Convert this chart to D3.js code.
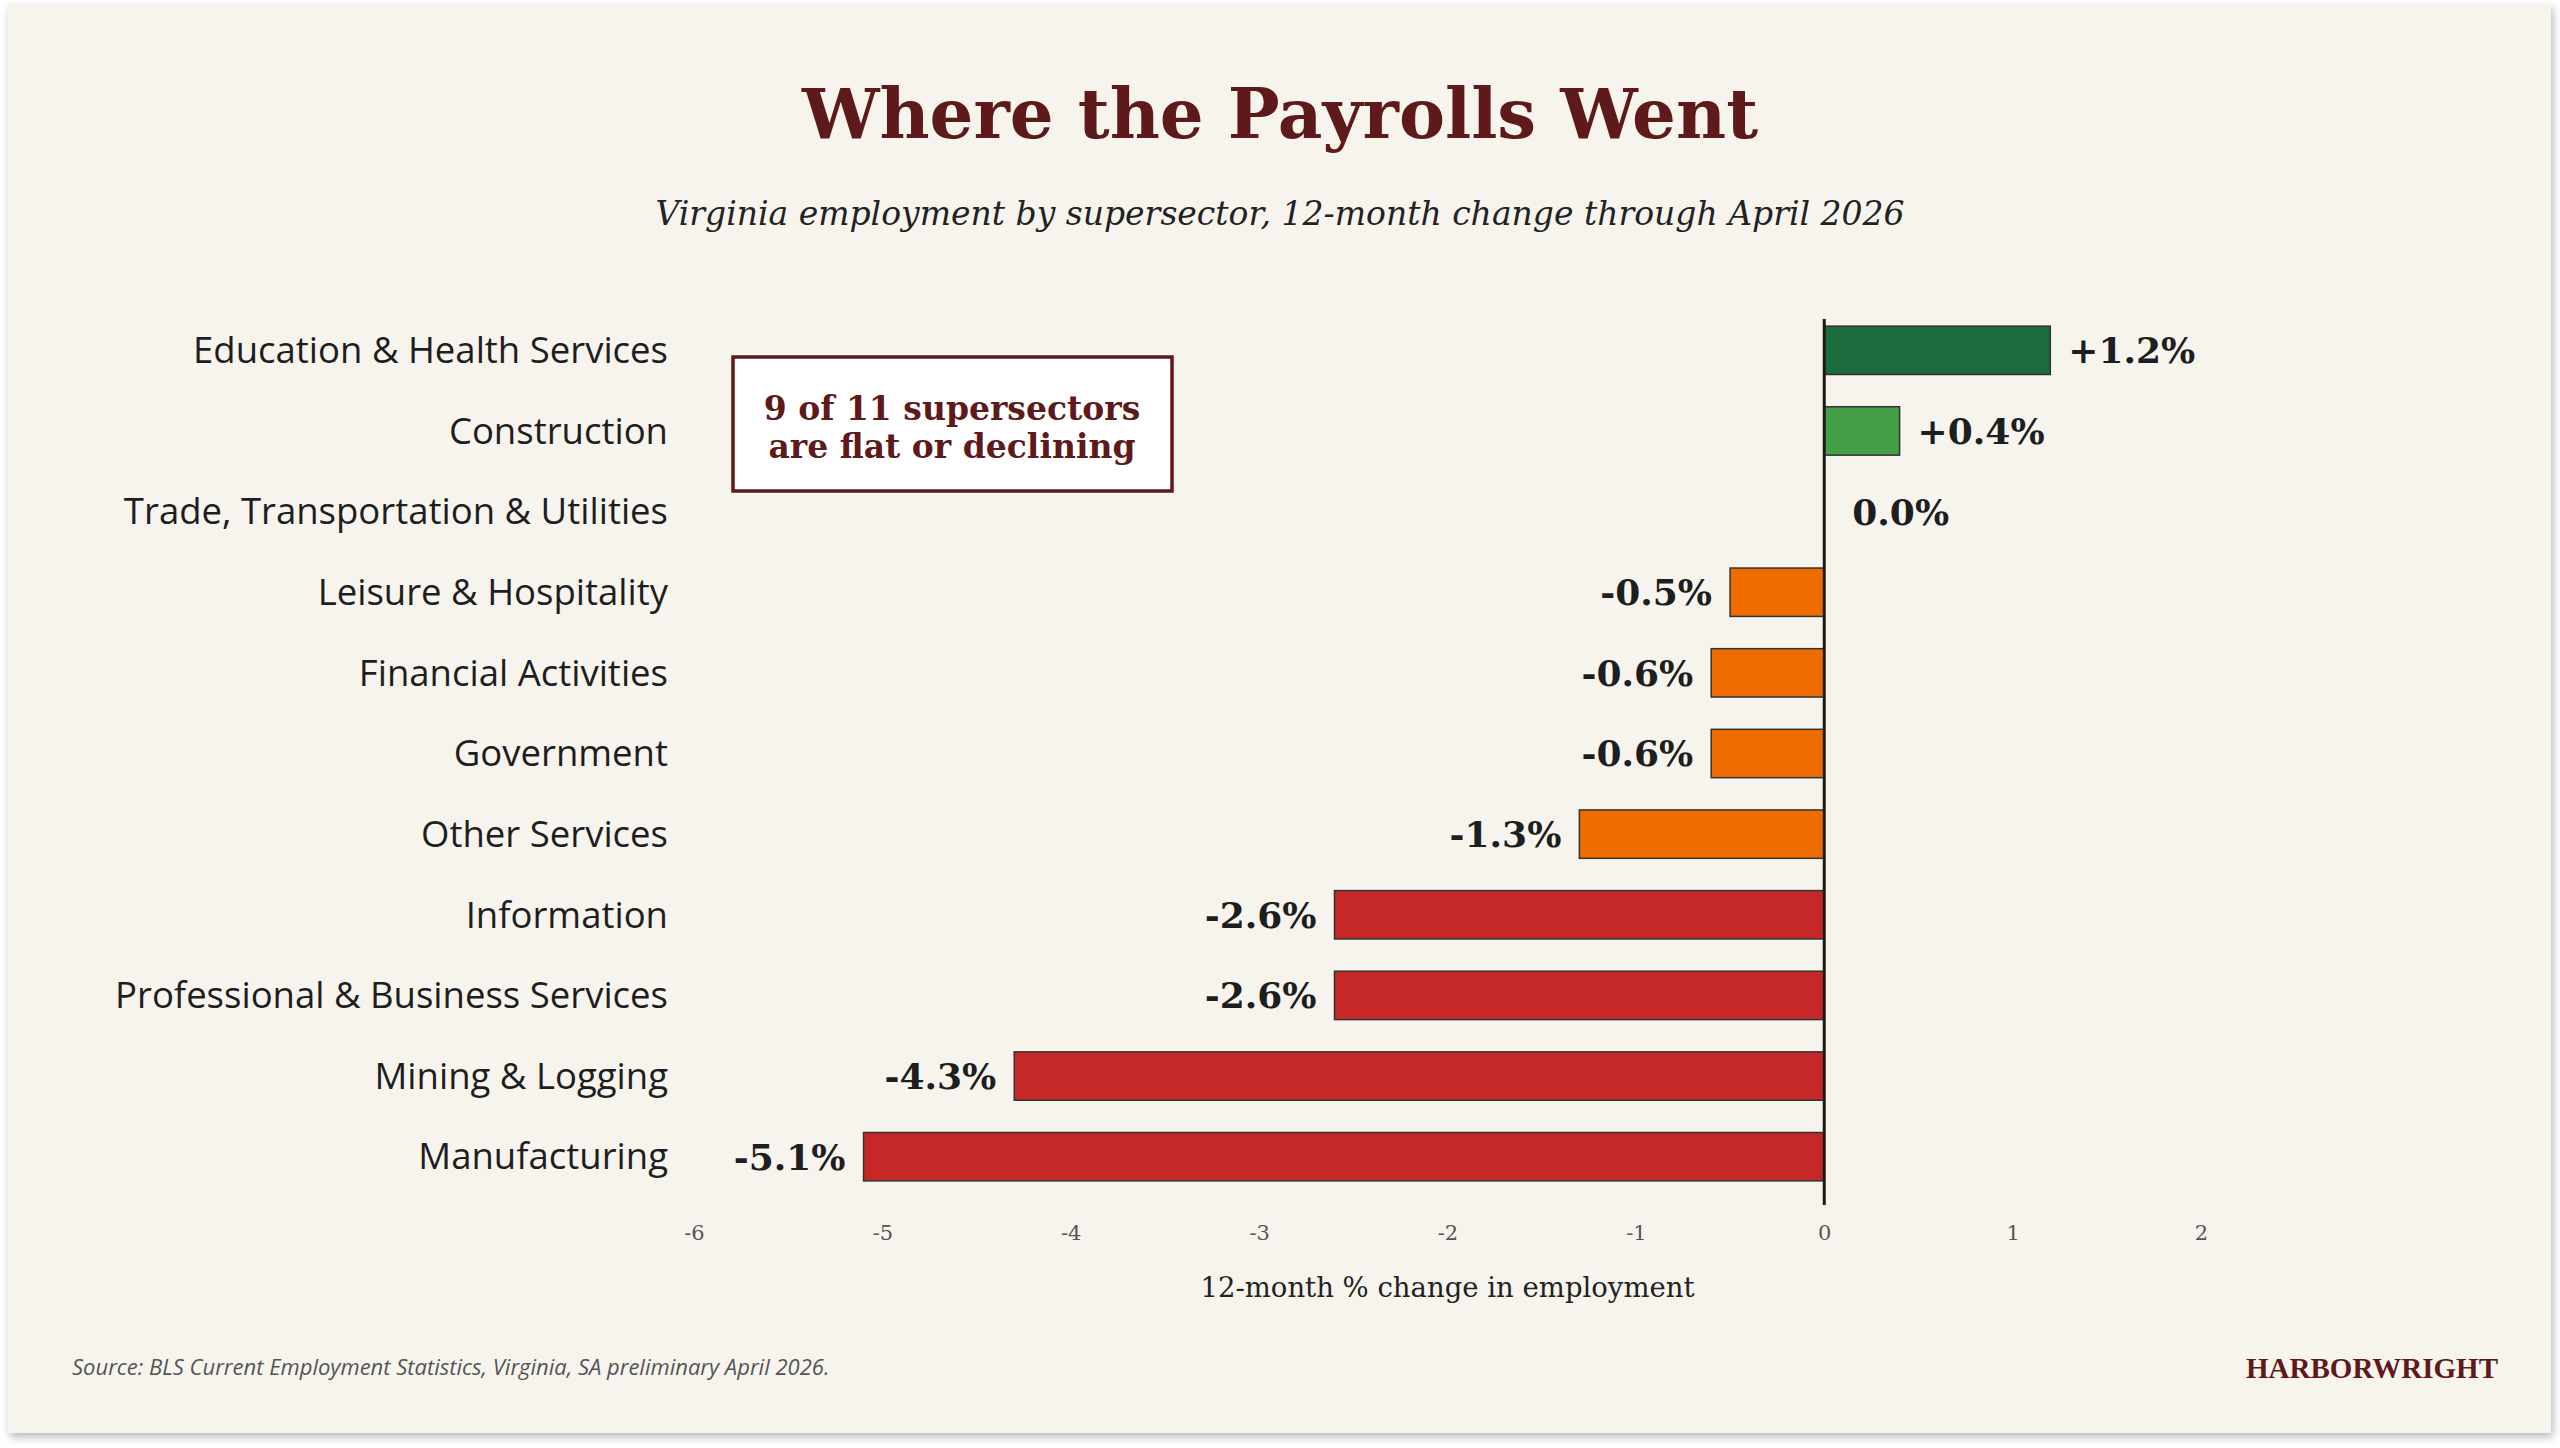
<!DOCTYPE html>
<html>
<head>
<meta charset="utf-8">
<script src="https://cdn.jsdelivr.net/npm/d3@7"></script>
<style>
  html, body { margin: 0; padding: 0; background: #ffffff; }
  .sector-label { font-family: "Open Sans", "Noto Sans", sans-serif; fill: #1e1e1e; }
  .value-label { font-family: "DejaVu Serif", Georgia, serif; font-weight: bold; fill: #1e1e1e; }
  .x-axis text { font-family: "DejaVu Serif", Georgia, serif; fill: #555; }
  .x-axis path, .x-axis line { display: none; }
</style>
</head>
<body>
<div id="chart"></div>
<script>
// sectors top to bottom, 12-month % change
let sectors = ["Education & Health Services", "Construction", "Trade, Transportation & Utilities",
  "Leisure & Hospitality", "Financial Activities", "Government", "Other Services",
  "Information", "Professional & Business Services", "Mining & Logging", "Manufacturing"];
let changes = [1.2, 0.4, 0.0, -0.5, -0.6, -0.6, -1.3, -2.6, -2.6, -4.3, -5.1];
let xTicks = [-6, -5, -4, -3, -2, -1, 0, 1, 2];

let titleText = "Where the Payrolls Went";
let subtitleText = "Virginia employment by supersector, 12-month change through April 2026";
let noteLines = ["9 of 11 supersectors", "are flat or declining"];
let axisTitle = "12-month % change in employment";
let sourceText = "Source: BLS Current Employment Statistics, Virginia, SA preliminary April 2026.";
let brandText = "HARBORWRIGHT";

let total_width = 2560;
let total_height = 1448;
let maroon = "#5e1a1a";

function barColor(v){
  if(v >= 1) return "#1b6b3c";
  if(v > 0) return "#43a047";
  if(v > -2) return "#ef6c00";
  return "#c62828";
}

let svg = d3.select("#chart").append("svg")
  .attr("width", total_width)
  .attr("height", total_height);

let defs = svg.append("defs");
let shadow = defs.append("filter").attr("id", "shadow")
  .attr("x", "-5%").attr("y", "-5%").attr("width", "110%").attr("height", "110%");
shadow.append("feDropShadow")
  .attr("dx", 2).attr("dy", 4).attr("stdDeviation", 4)
  .attr("flood-color", "#000").attr("flood-opacity", 0.28);

// card background
svg.append("rect")
  .attr("x", 8).attr("y", 4)
  .attr("width", 2543).attr("height", 1429)
  .attr("fill", "#f7f4ee")
  .attr("filter", "url(#shadow)");

// title + subtitle
svg.append("text")
  .attr("x", 1280).attr("y", 138)
  .attr("text-anchor", "middle")
  .style("font-family", "\"DejaVu Serif\", Georgia, serif")
  .style("font-weight", "bold")
  .style("font-size", "69px")
  .attr("fill", maroon)
  .text(titleText);

svg.append("text")
  .attr("x", 1280).attr("y", 225)
  .attr("text-anchor", "middle")
  .style("font-family", "\"DejaVu Serif\", Georgia, serif")
  .style("font-style", "italic")
  .style("font-size", "33px")
  .attr("fill", "#222")
  .text(subtitleText);

// scales
let x = d3.scaleLinear()
  .domain([-6, 2])
  .range([694, 2201]);

let y = d3.scaleBand()
  .domain(sectors)
  .range([310, 1197])
  .paddingInner(0.4)
  .paddingOuter(0.2);

let rows = sectors.map((s, i) => ({sector: s, value: changes[i]}));

// bars
svg.append("g").selectAll("rect")
  .data(rows.filter(d => d.value !== 0))
  .enter().append("rect")
    .attr("x", d => x(Math.min(0, d.value)))
    .attr("y", d => y(d.sector))
    .attr("width", d => Math.abs(x(d.value) - x(0)))
    .attr("height", y.bandwidth())
    .attr("fill", d => barColor(d.value))
    .attr("stroke", "#333")
    .attr("stroke-width", 1.5);

// zero line
svg.append("line")
  .attr("x1", x(0)).attr("x2", x(0))
  .attr("y1", y.range()[0] + 9)
  .attr("y2", y.range()[1] + 8)
  .attr("stroke", "#1a1a1a")
  .attr("stroke-width", 3);

// sector names
svg.append("g").selectAll("text")
  .data(rows)
  .enter().append("text")
    .attr("class", "sector-label")
    .attr("x", 668)
    .attr("y", d => y(d.sector) + y.bandwidth() / 2)
    .attr("dy", "0.35em")
    .attr("text-anchor", "end")
    .style("font-size", "36.5px")
    .text(d => d.sector);

// value labels
function fmt(v){
  if(v > 0) return "+" + v.toFixed(1) + "%";
  return v.toFixed(1) + "%";
}
svg.append("g").selectAll("text")
  .data(rows)
  .enter().append("text")
    .attr("class", "value-label")
    .attr("x", d => d.value > 0 ? x(d.value) + 18 : (d.value < 0 ? x(d.value) - 18 : x(0) + 28))
    .attr("y", d => y(d.sector) + y.bandwidth() / 2)
    .attr("dy", "0.36em")
    .attr("text-anchor", d => d.value < 0 ? "end" : "start")
    .style("font-size", "36px")
    .text(d => fmt(d.value));

// x axis (plain hyphen minus like the original)
svg.append("g")
  .attr("class", "x-axis")
  .attr("transform", "translate(0,1222)")
  .call(d3.axisBottom(x).tickValues(xTicks).tickSize(0).tickFormat(d => String(d)))
  .selectAll("text")
    .style("font-size", "21px");

svg.append("text")
  .attr("x", (x.range()[0] + x.range()[1]) / 2)
  .attr("y", 1297)
  .attr("text-anchor", "middle")
  .style("font-family", "\"DejaVu Serif\", Georgia, serif")
  .style("font-size", "27.5px")
  .attr("fill", "#222")
  .text(axisTitle);

// annotation box
let note = svg.append("g");
note.append("rect")
  .attr("x", 733).attr("y", 357)
  .attr("width", 439).attr("height", 134)
  .attr("fill", "#ffffff")
  .attr("stroke", maroon)
  .attr("stroke-width", 3.5);
note.selectAll("text")
  .data(noteLines)
  .enter().append("text")
    .attr("x", 952)
    .attr("y", (d, i) => 420 + i * 38)
    .attr("text-anchor", "middle")
    .style("font-family", "\"DejaVu Serif\", Georgia, serif")
    .style("font-weight", "bold")
    .style("font-size", "33px")
    .attr("fill", maroon)
    .text(d => d);

// footer
svg.append("text")
  .attr("x", 72).attr("y", 1375)
  .style("font-family", "\"Open Sans\", \"Noto Sans\", sans-serif")
  .style("font-style", "italic")
  .style("font-size", "22px")
  .attr("fill", "#555")
  .text(sourceText);

svg.append("text")
  .attr("x", 2498).attr("y", 1378)
  .attr("text-anchor", "end")
  .style("font-family", "\"Liberation Serif\", Georgia, serif")
  .style("font-weight", "bold")
  .style("font-size", "29px")
  .attr("fill", maroon)
  .text(brandText);
</script>
</body>
</html>
